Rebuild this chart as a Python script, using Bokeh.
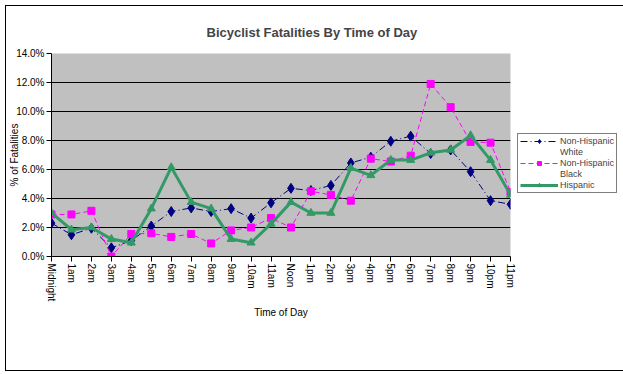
import math
from bokeh.plotting import figure
from bokeh.models import Range1d, NumeralTickFormatter, Legend, LegendItem, FixedTicker
from bokeh.embed import file_html
from bokeh.resources import INLINE

hours = ["Midnight", "1am", "2am", "3am", "4am", "5am", "6am", "7am", "8am", "9am",
         "10am", "11am", "Noon", "1pm", "2pm", "3pm", "4pm", "5pm", "6pm", "7pm",
         "8pm", "9pm", "10pm", "11pm"]
non_hispanic = [2.3, 1.5, 1.95, 0.6, 1.1, 2.1, 3.1, 3.35, 3.1, 3.3, 2.65, 3.7,
                4.7, 4.55, 4.9, 6.45, 6.85, 7.95, 8.3, 7.1, 7.35, 5.85, 3.85, 3.6]
white_non_hispanic = [2.9, 2.9, 3.15, 0.0, 1.55, 1.6, 1.35, 1.55, 0.9, 1.8, 2.0, 2.65,
                      2.0, 4.5, 4.25, 3.85, 6.75, 6.55, 6.95, 11.9, 10.3, 7.9, 7.85, 4.45]
black_hispanic = [3.0, 1.85, 2.0, 1.2, 0.95, 3.3, 6.15, 3.75, 3.3, 1.2, 0.95, 2.25,
                  3.75, 3.0, 3.0, 6.1, 5.6, 6.65, 6.65, 7.15, 7.35, 8.35, 6.65, 4.25]
y_ticks = [0.0, 0.02, 0.04, 0.06, 0.08, 0.10, 0.12, 0.14]

FONT = "Liberation Sans"
xs = list(range(len(hours)))

p = figure(frame_width=459, frame_height=203, x_range=Range1d(0, 23), y_range=Range1d(0, 0.14),
           output_backend="svg", toolbar_location=None,
           background_fill_color="#C0C0C0", border_fill_color="white",
           min_border_left=45, min_border_right=108, min_border_top=47,
           min_border_bottom=114, outline_line_color=None,
           styles={"border": "1px solid black", "margin": "5px 0 0 5px"})

p.title.text = "Bicyclist Fatalities By Time of Day"
p.title.text_font = FONT
p.title.text_font_size = "13px"
p.title.text_font_style = "bold"
p.title.align = "left"
p.title.offset = 155
p.title.standoff = 27

# axes
p.xaxis.ticker = FixedTicker(ticks=xs)
p.xaxis.major_label_overrides = {i: h for i, h in enumerate(hours)}
p.xaxis.major_label_orientation = -math.pi / 2
p.xaxis.axis_label = "Time of Day"
p.yaxis.ticker = FixedTicker(ticks=y_ticks)
p.yaxis.formatter = NumeralTickFormatter(format="0.0%")
p.yaxis.axis_label = "% of Fatalities"
for ax in (p.xaxis[0], p.yaxis[0]):
    ax.axis_line_color = "black"
    ax.major_tick_line_color = "black"
    ax.major_tick_out = 5
    ax.major_tick_in = 0
    ax.minor_tick_line_color = None
    ax.major_label_text_font = FONT
    ax.major_label_text_font_size = "10px"
    ax.major_label_text_color = "black"
    ax.axis_label_text_font = FONT
    ax.axis_label_text_font_size = "10px"
    ax.axis_label_text_font_style = "normal"
    ax.axis_label_text_color = "black"
p.yaxis.major_label_standoff = 2
p.yaxis.axis_label_standoff = -7
p.xaxis.major_label_standoff = 2
p.xaxis.axis_label_standoff = 3

p.xgrid.grid_line_color = None
p.ygrid.grid_line_color = "black"
p.ygrid.grid_line_width = 1
p.ygrid.grid_line_alpha = 1.0

nh = [v / 100 for v in non_hispanic]
wh = [v / 100 for v in white_non_hispanic]
bh = [v / 100 for v in black_hispanic]

l1 = p.line(xs, nh, line_color="#000080", line_width=1, line_dash="7 3 1 3")
m1 = p.scatter(xs, nh, marker="diamond", size=10, fill_color="#000080", line_color="#000080")
l2 = p.line(xs, wh, line_color="#FF00FF", line_width=1, line_dash="5 3")
m2 = p.scatter(xs, wh, marker="square", size=7, fill_color="#FF00FF", line_color="#FF00FF")
l3 = p.line(xs, bh, line_color="#339966", line_width=3)
m3 = p.scatter(xs, bh, marker="triangle", size=8, fill_color="#339966", line_color="#339966")

# invisible, empty renderer used only for the first line of two-line legend labels
blank = p.line(x=[], y=[], line_alpha=0)

legend = Legend(items=[
    LegendItem(label="Non-Hispanic", renderers=[l1, m1]),
    LegendItem(label="White", renderers=[blank]),
    LegendItem(label="Non-Hispanic", renderers=[l2, m2]),
    LegendItem(label="Black", renderers=[blank]),
    LegendItem(label="Hispanic", renderers=[l3, m3]),
], location=(7, 63))
legend.border_line_color = "black"
legend.border_line_width = 1
legend.background_fill_color = "white"
legend.background_fill_alpha = 1.0
legend.padding = 2
legend.margin = 0
legend.spacing = 1
legend.glyph_width = 38
legend.glyph_height = 10
legend.label_standoff = 2
legend.label_text_font = FONT
legend.label_text_font_size = "9px"
legend.label_height = 10
p.add_layout(legend, "right")

open("out.html", "w").write(file_html(p, INLINE))
